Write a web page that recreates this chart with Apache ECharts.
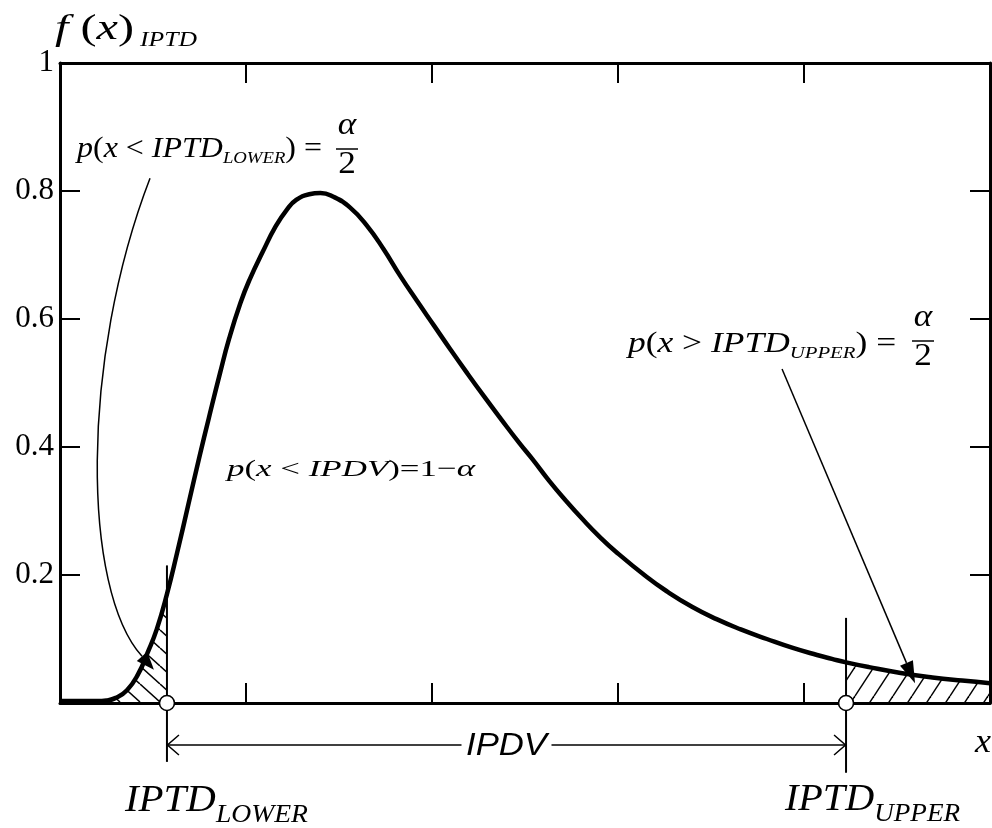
<!DOCTYPE html>
<html><head><meta charset="utf-8">
<script src="https://cdn.jsdelivr.net/npm/echarts@6/dist/echarts.min.js"></script>
<style>html,body{margin:0;padding:0;background:#fff}#c{width:992px;height:828px}</style>
</head><body><div id="c"></div>
<script>
// ---- data ----
const xValues = [0, 0.1, 0.2, 0.25, 0.3, 0.36, 0.42, 0.47, 0.52, 0.575, 0.63, 0.69, 0.75, 0.80, 0.86, 0.91, 0.97, 1.02, 1.09, 1.16, 1.22, 1.27, 1.34, 1.40, 1.47, 1.56, 1.65, 1.74, 1.83, 1.92, 2.01, 2.10, 2.19, 2.28, 2.37, 2.47, 2.54, 2.63, 2.72, 2.81, 2.90, 2.99, 3.15, 3.26, 3.40, 3.53, 3.66, 3.80, 3.94, 4.07, 4.15, 4.226, 4.35, 4.52, 4.69, 4.85, 5.0];
const fValues = [0.003, 0.003, 0.003, 0.004, 0.008, 0.02, 0.045, 0.078, 0.115, 0.17, 0.235, 0.31, 0.385, 0.445, 0.515, 0.57, 0.625, 0.662, 0.705, 0.745, 0.771, 0.786, 0.795, 0.797, 0.791, 0.774, 0.746, 0.709, 0.667, 0.628, 0.590, 0.552, 0.515, 0.479, 0.444, 0.406, 0.381, 0.347, 0.316, 0.287, 0.260, 0.236, 0.198, 0.175, 0.150, 0.131, 0.115, 0.100, 0.086, 0.075, 0.069, 0.0635, 0.056, 0.047, 0.040, 0.035, 0.031];
const yTickLabels = ['', '0.2', '0.4', '0.6', '0.8', '1'];
const iptdLower = 0.575;
const iptdUpper = 4.226;
const lowerMarkerSpan = [0.215, -0.092];
const upperMarkerSpan = [0.133, -0.109];
const ipdvArrowY = -0.0656;

const SERIF = '"Liberation Serif","DejaVu Serif",serif';
const SANS = '"Liberation Sans","DejaVu Sans",sans-serif';

const chart = echarts.init(document.getElementById('c'), null, {renderer: 'canvas'});
const curve = xValues.map((x, i) => [x, fValues[i]]);
const lowerTail = curve.filter(p => p[0] <= iptdLower);
const upperTail = curve.filter(p => p[0] >= iptdUpper);

function hatch(w, h, dir) {
  const c = document.createElement('canvas');
  c.width = w; c.height = h;
  const g = c.getContext('2d');
  g.strokeStyle = '#000'; g.lineWidth = 1.5;
  for (const off of [-w, 0, w]) {
    g.beginPath();
    if (dir === '/') { g.moveTo(off, h); g.lineTo(off + w, 0); }
    else { g.moveTo(off, 0); g.lineTo(off + w, h); }
    g.stroke();
  }
  return c;
}
const hatchL = hatch(20, 18, '\\');
const hatchU = hatch(19, 29, '/');

const SM = 0.5;
function axisX(pos) {
  return {type: 'value', min: 0, max: 5, interval: 1, position: pos,
    axisLine: {show: true, onZero: false, lineStyle: {color: '#000', width: 3}},
    axisTick: {show: true, inside: true, length: 20, lineStyle: {color: '#000', width: 2}},
    axisLabel: {show: false}, splitLine: {show: false}};
}
function axisY(pos, labels) {
  return {type: 'value', min: 0, max: 1, interval: 0.2, position: pos,
    axisLine: {show: true, onZero: false, lineStyle: {color: '#000', width: 3}},
    axisTick: {show: true, inside: true, length: 20, lineStyle: {color: '#000', width: 2}},
    axisLabel: labels ? {show: true, margin: 6, color: '#000', fontFamily: SERIF, fontSize: 31,
      padding: [12, 0, 0, 0],
      formatter: (v, i) => yTickLabels[i]} : {show: false},
    splitLine: {show: false}};
}

chart.setOption({
  animation: false,
  backgroundColor: '#fff',
  grid: {left: 60, right: 2, top: 63, bottom: 125, containLabel: false},
  xAxis: [axisX('bottom'), axisX('top')],
  yAxis: [axisY('left', true), axisY('right', false)],
  series: [
    {type: 'line', data: lowerTail, smooth: SM, symbol: 'none', silent: true,
      lineStyle: {width: 0, opacity: 0}, areaStyle: {color: {image: hatchL, repeat: 'repeat'}, opacity: 1}, z: 2},
    {type: 'line', data: upperTail, smooth: SM, symbol: 'none', silent: true,
      lineStyle: {width: 0, opacity: 0}, areaStyle: {color: {image: hatchU, repeat: 'repeat'}, opacity: 1}, z: 2},
    {type: 'line', data: curve, smooth: SM, symbol: 'none',
      lineStyle: {color: '#000', width: 4.5}, z: 5},
    {type: 'line', data: [[iptdLower, lowerMarkerSpan[0]], [iptdLower, lowerMarkerSpan[1]]], clip: false,
      symbol: 'none', lineStyle: {color: '#000', width: 2}, z: 4},
    {type: 'line', data: [[iptdUpper, upperMarkerSpan[0]], [iptdUpper, upperMarkerSpan[1]]], clip: false,
      symbol: 'none', lineStyle: {color: '#000', width: 2}, z: 4},
    {type: 'line', data: [[iptdLower, ipdvArrowY], [iptdUpper, ipdvArrowY]], clip: false,
      symbol: 'none', lineStyle: {color: '#000', width: 1.5}, z: 4},
    {type: 'scatter', data: [[iptdLower, 0], [iptdUpper, 0]], clip: false, symbol: 'circle', symbolSize: 15,
      itemStyle: {color: '#fff', borderColor: '#000', borderWidth: 1.6, opacity: 1}, z: 6}
  ]
});

// ---------- annotations ----------
const mctx = document.createElement('canvas').getContext('2d');
function fontStr(size, it, fam) { return (it ? 'italic ' : '') + size + 'px ' + (fam || SERIF); }
function measure(t, size, it, fam) { mctx.font = fontStr(size, it, fam); return mctx.measureText(t).width; }
function txt(x, baseline, t, size, it, sx, fam, extra) {
  return Object.assign({type: 'text', x: x, y: baseline - 0.305 * size, scaleX: sx || 1, z: 100,
    style: Object.assign({text: t, font: fontStr(size, it, fam), fill: '#000',
      align: 'left', verticalAlign: 'middle', textAlign: 'left', textVerticalAlign: 'middle'}, extra || {})});
}
function fit(runs, x0, x1, baseline) {
  const ws = runs.map(r => measure(r.t, r.size, r.it, r.fam));
  const W = ws.reduce((a, b) => a + b, 0);
  const s = (x1 - x0) / W;
  const out = []; let cx = x0;
  runs.forEach((r, i) => { out.push(txt(cx, baseline + (r.dy || 0), r.t, r.size, r.it, s, r.fam)); cx += ws[i] * s; });
  return out;
}
function frac(cx, top, size, sx, barW, gapA, gapB) {
  const els = [];
  const wa = measure('α', size, true) * sx, w2 = measure('2', size, false) * sx;
  els.push(txt(cx - wa / 2, top - gapA, 'α', size, true, sx));
  els.push({type: 'line', z: 100, shape: {x1: cx - barW / 2, y1: top, x2: cx + barW / 2, y2: top}, style: {stroke: '#000', lineWidth: 1.5}});
  els.push(txt(cx - w2 / 2, top + gapB, '2', size, false, sx));
  return els;
}
const P = (u, v) => chart.convertToPixel({gridIndex: 0}, [u, v]);

const g = [];
// y-axis title f(x)_IPTD
g.push(...fit([{t: 'f', size: 36, it: true}, {t: ' (', size: 36}, {t: 'x', size: 36, it: true}, {t: ')', size: 36}], 55, 134, 41));
g.push(...fit([{t: 'IPTD', size: 22, it: true}], 140, 197, 47));
// lower probability label
g.push(...fit([{t: 'p', size: 29, it: true}, {t: '(', size: 29}, {t: 'x', size: 29, it: true}, {t: ' < ', size: 29},
  {t: 'IPTD', size: 29, it: true}, {t: 'LOWER', size: 17, it: true, dy: 6}, {t: ')', size: 29}, {t: ' = ', size: 29}], 77, 330, 158));
g.push(...frac(347, 149, 32, 1.1, 22, 14, 25));
// upper probability label
g.push(...fit([{t: 'p', size: 29, it: true}, {t: '(', size: 29}, {t: 'x', size: 29, it: true}, {t: ' > ', size: 29},
  {t: 'IPTD', size: 29, it: true}, {t: 'UPPER', size: 17, it: true, dy: 6}, {t: ')', size: 29}, {t: ' = ', size: 29}], 628, 905, 353));
g.push(...frac(923, 341, 32, 1.1, 22, 14, 25));
// central probability
g.push(...fit([{t: 'p', size: 24, it: true}, {t: '(', size: 24}, {t: 'x', size: 24, it: true}, {t: ' < ', size: 24},
  {t: 'IPDV', size: 24, it: true}, {t: ')', size: 24}, {t: '=', size: 24}, {t: '1', size: 24}, {t: '−', size: 24}, {t: 'α', size: 24, it: true}], 227, 475, 477));
// bound labels
g.push(...fit([{t: 'IPTD', size: 37, it: true}, {t: 'LOWER', size: 25, it: true, dy: 10}], 125, 308, 813));
g.push(...fit([{t: 'IPTD', size: 37, it: true}, {t: 'UPPER', size: 25, it: true, dy: 10}], 785, 960, 812));
// x label
g.push(...fit([{t: 'x', size: 34, it: true}], 975, 991, 753));

// IPDV double arrow: heads + label
const aL = P(iptdLower, ipdvArrowY), aR = P(iptdUpper, ipdvArrowY);
g.push({type: 'polyline', z: 100, shape: {points: [[aL[0] + 12, aL[1] - 10], [aL[0] + 0.5, aL[1]], [aL[0] + 12, aL[1] + 10]]}, style: {stroke: '#000', lineWidth: 1.5, fill: null}});
g.push({type: 'polyline', z: 100, shape: {points: [[aR[0] - 12, aR[1] - 10], [aR[0] - 0.5, aR[1]], [aR[0] - 12, aR[1] + 10]]}, style: {stroke: '#000', lineWidth: 1.5, fill: null}});
{
  const w = measure('IPDV', 31, true, SANS);
  const sx = 81 / w;
  const cx = (aL[0] + aR[0]) / 2;
  g.push({type: 'rect', z: 99, shape: {x: cx - 45, y: aR[1] - 4, width: 90, height: 8}, style: {fill: '#fff'}});
  g.push(txt(cx - 40.5, aR[1] + 0.305 * 31 + 1.5, 'IPDV', 31, true, sx, SANS));
}

// upper straight arrow (data-space anchors)
{
  const s = P(3.882, 0.522), t = P(4.597, 0.031);
  const dx = t[0] - s[0], dy = t[1] - s[1], L = Math.hypot(dx, dy), ux = dx / L, uy = dy / L;
  const bx = t[0] - ux * 22, by = t[1] - uy * 22;
  g.push({type: 'line', z: 100, shape: {x1: s[0], y1: s[1], x2: bx, y2: by}, style: {stroke: '#000', lineWidth: 1.5}});
  g.push({type: 'polygon', z: 100, shape: {points: [[t[0], t[1]], [bx - uy * 7, by + ux * 7], [bx + uy * 7, by - ux * 7]]}, style: {fill: '#000'}});
}
// lower curved arrow
{
  const p0 = P(0.484, 0.820), c1 = P(0.108, 0.536), c2 = P(0.118, 0.177), p3 = P(0.441, 0.073), t = P(0.505, 0.052);
  g.push({type: 'bezierCurve', z: 100, shape: {x1: p0[0], y1: p0[1], cpx1: c1[0], cpy1: c1[1], cpx2: c2[0], cpy2: c2[1], x2: p3[0], y2: p3[1]}, style: {stroke: '#000', lineWidth: 1.5, fill: null}});
  const dx = t[0] - p3[0], dy = t[1] - p3[1], L = Math.hypot(dx, dy), ux = dx / L, uy = dy / L;
  g.push({type: 'polygon', z: 100, shape: {points: [[t[0], t[1]], [p3[0] - uy * 7, p3[1] + ux * 7], [p3[0] + uy * 7, p3[1] - ux * 7]]}, style: {fill: '#000'}});
}
chart.setOption({graphic: {elements: g}});
</script></body></html>
